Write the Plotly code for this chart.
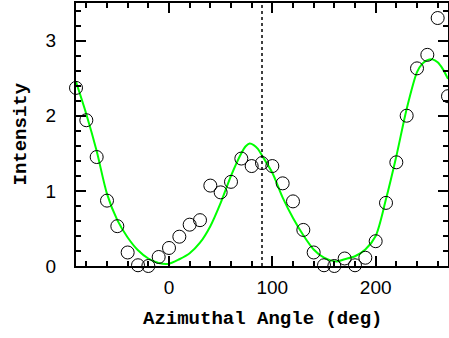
import plotly.graph_objects as go

# Measured data points (azimuthal angle, intensity)
angle_deg = [-90, -80, -70, -60, -50, -40, -30, -20, -10, 0, 10, 20, 30, 40, 50, 60, 70, 80, 90,
             100, 110, 120, 130, 140, 150, 160, 170, 180, 190, 200, 210, 220, 230, 240, 250, 260, 270]
intensity = [2.37, 1.94, 1.45, 0.87, 0.53, 0.18, 0.01, 0.0, 0.12, 0.24, 0.39, 0.55, 0.61, 1.07, 0.98, 1.12, 1.43, 1.33, 1.37,
             1.33, 1.10, 0.86, 0.48, 0.18, 0.01, 0.0, 0.10, 0.01, 0.11, 0.33, 0.84, 1.38, 2.0, 2.63, 2.81, 3.30, 2.26]

# Fitted model curve
fit_angle = [-90, -80, -70, -60, -50, -40, -30, -20, -10, 0, 10, 20, 30, 40, 50, 60, 70, 74, 78, 82, 86, 90,
             100, 110, 120, 130, 140, 150, 162, 170, 180, 190, 200, 210, 220, 230, 240, 245, 250, 255, 260, 265, 270]
fit_intensity = [2.45, 2.02, 1.53, 0.96, 0.61, 0.38, 0.21, 0.10, 0.04, 0.03, 0.09, 0.17, 0.31, 0.53, 0.84, 1.20, 1.50, 1.59, 1.63, 1.61, 1.56, 1.47,
                 1.24, 0.91, 0.64, 0.41, 0.22, 0.11, 0.06, 0.09, 0.13, 0.22, 0.40, 0.89, 1.46, 2.09, 2.58, 2.69, 2.74, 2.75, 2.71, 2.62, 2.49]

marker_angle = 90
x_range = [-90, 270]
y_range = [0, 3.5]
x_title = "Azimuthal Angle (deg)"
y_title = "Intensity"

fig = go.Figure()
fig.add_trace(go.Scatter(x=fit_angle, y=fit_intensity, mode="lines",
                         line=dict(color="#00ff00", width=2, shape="spline", smoothing=0.8),
                         hoverinfo="skip"))
fig.add_trace(go.Scatter(x=angle_deg, y=intensity, mode="markers",
                         marker=dict(symbol="circle-open", size=13, color="black", line=dict(width=1, color="black")),
                         cliponaxis=False))

fig.add_shape(type="line", xref="x", yref="paper", x0=marker_angle, x1=marker_angle, y0=0, y1=1,
              line=dict(color="black", width=1.5, dash="dot"))

axis_common = dict(showgrid=False, zeroline=False, showline=True, linecolor="black", linewidth=2,
                   mirror="allticks", ticks="inside", ticklen=10, tickwidth=1.5, tickcolor="black",
                   automargin=False,
                   tickfont=dict(family="Liberation Sans", size=19, color="black"))

fig.update_xaxes(range=x_range, tick0=0, dtick=100,
                 minor=dict(ticks="inside", dtick=20, tick0=0, ticklen=5, tickwidth=1.5, tickcolor="black", showgrid=False),
                 ticklabelstandoff=3,
                 **axis_common)
fig.update_yaxes(range=y_range, tick0=0, dtick=1,
                 minor=dict(ticks="inside", dtick=0.2, tick0=0, ticklen=5, tickwidth=1.5, tickcolor="black", showgrid=False),
                 ticklabelstandoff=14,
                 **axis_common)

title_font = dict(family="Liberation Mono", size=19, color="black", weight="bold")
fig.add_annotation(text=x_title, xref="paper", yref="paper", x=0.5, y=-0.2015,
                   xanchor="center", yanchor="middle", showarrow=False, font=title_font)
fig.add_annotation(text=y_title, xref="paper", yref="paper", x=-0.1505, y=0.5, textangle=-90,
                   xanchor="center", yanchor="middle", showarrow=False, font=title_font)

fig.update_layout(width=449, height=338, autosize=False, margin=dict(l=76, r=1, t=3, b=72),
                  plot_bgcolor="white", paper_bgcolor="white", showlegend=False)

fig.write_html("out.html", config={"responsive": False, "displayModeBar": False},
               default_width="449px", default_height="338px",
               post_script="document.body.style.margin='0';document.body.style.overflow='hidden';")
